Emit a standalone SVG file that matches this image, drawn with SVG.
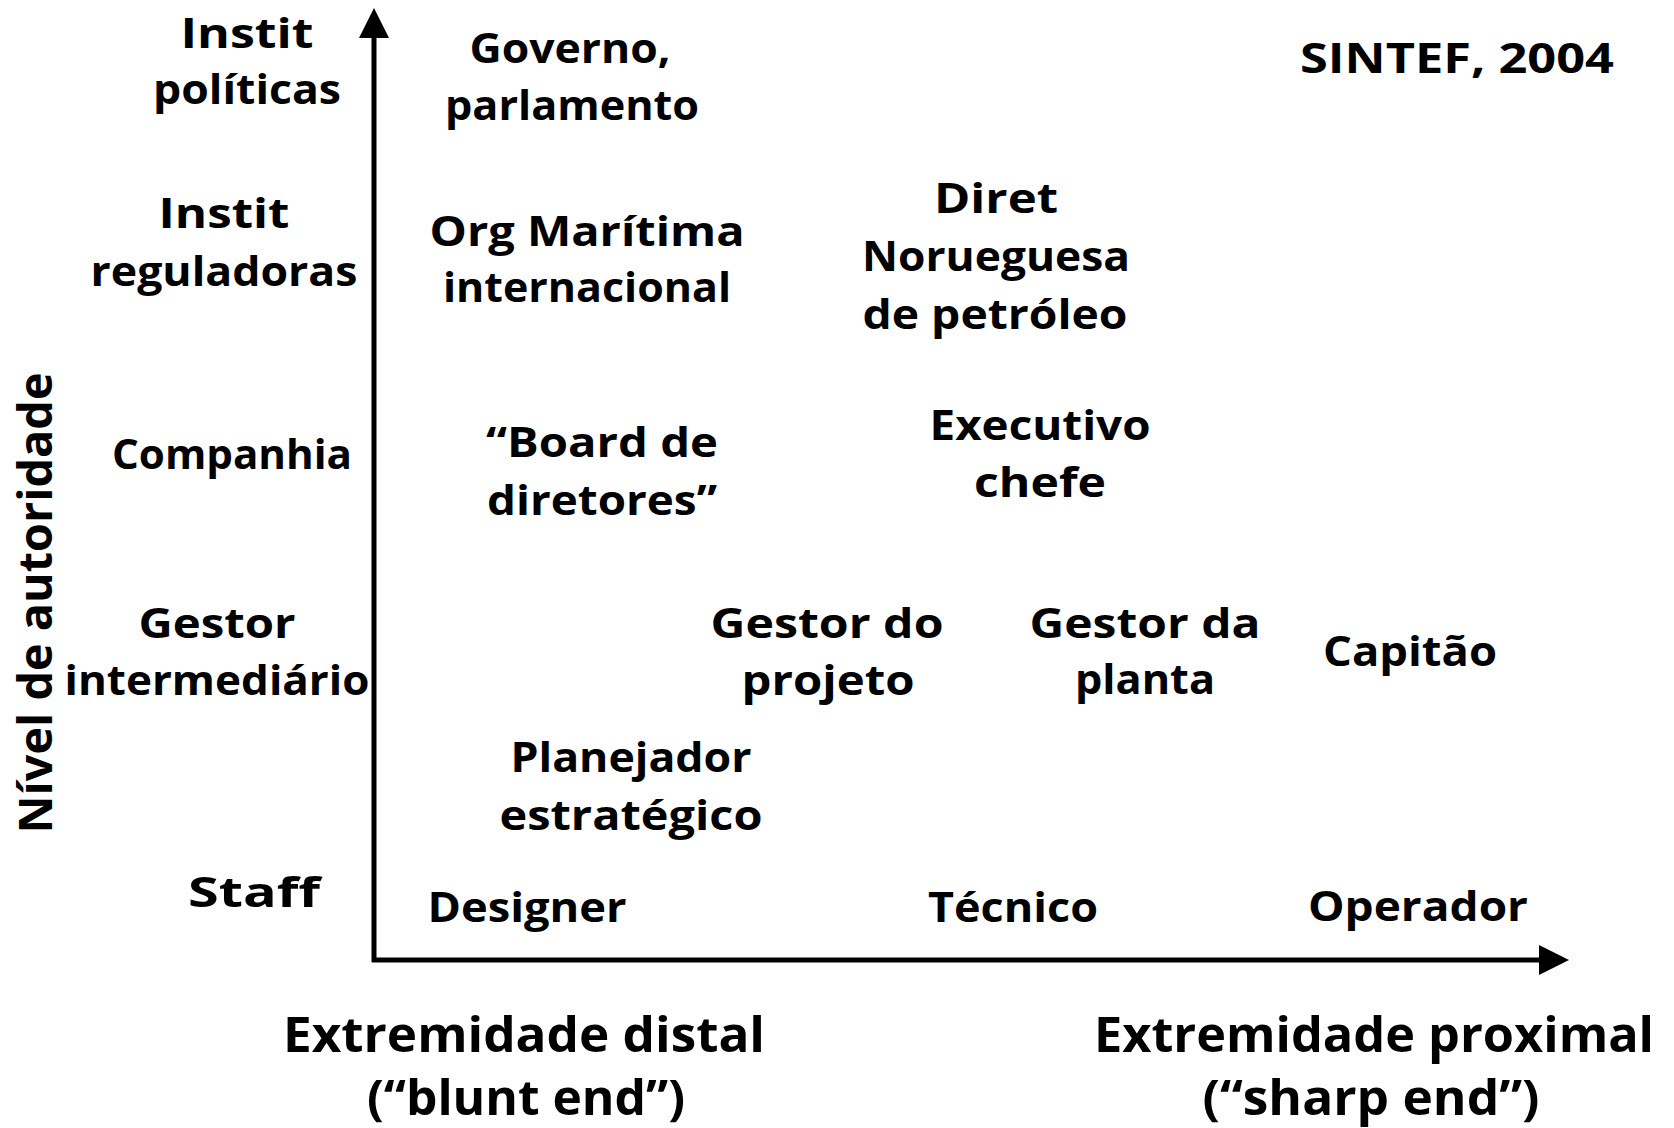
<svg xmlns="http://www.w3.org/2000/svg" width="1674" height="1128" viewBox="0 0 1674 1128">
<style>
text{font-family:"Open Sans","DejaVu Sans",sans-serif;font-weight:700;fill:#000;text-anchor:middle}
.m{font-size:42px}
.b{font-size:48px}
.v{font-size:46px}
.axis{stroke:#000;stroke-width:5;fill:none}
</style>
<defs>
<marker id="arr" viewBox="0 0 30 30" markerWidth="30" markerHeight="30" refX="0" refY="15" orient="auto" markerUnits="userSpaceOnUse">
<path d="M0,0 L30,15 L0,30 Z" fill="#000"/>
</marker>
</defs>
<rect width="1674" height="1128" fill="#fff"/>
<g id="connectors">
<line class="axis" x1="374" y1="962" x2="374" y2="38" marker-end="url(#arr)"/>
<line class="axis" x1="372" y1="960" x2="1539" y2="960" marker-end="url(#arr)"/>
</g>
<g id="y-label"><text class="v" transform="translate(52,603) rotate(-90)" textLength="461" lengthAdjust="spacingAndGlyphs">Nível de autoridade</text></g>
<g id="level-politicas"><text class="m" x="247" y="48" textLength="133" lengthAdjust="spacingAndGlyphs">Instit</text><text class="m" x="247" y="104" textLength="188" lengthAdjust="spacingAndGlyphs">políticas</text></g>
<g id="level-reguladoras"><text class="m" x="224" y="228" textLength="131" lengthAdjust="spacingAndGlyphs">Instit</text><text class="m" x="224" y="286" textLength="267" lengthAdjust="spacingAndGlyphs">reguladoras</text></g>
<g id="level-companhia"><text class="m" x="232" y="469" textLength="240" lengthAdjust="spacingAndGlyphs">Companhia</text></g>
<g id="level-gestor"><text class="m" x="217" y="638" textLength="157" lengthAdjust="spacingAndGlyphs">Gestor</text><text class="m" x="217" y="695" textLength="305" lengthAdjust="spacingAndGlyphs">intermediário</text></g>
<g id="level-staff"><text class="m" x="254" y="907" textLength="132" lengthAdjust="spacingAndGlyphs">Staff</text></g>
<g id="governo"><text class="m" x="570" y="63" textLength="201" lengthAdjust="spacingAndGlyphs">Governo,</text><text class="m" x="572" y="120" textLength="254" lengthAdjust="spacingAndGlyphs">parlamento</text></g>
<g id="sintef"><text class="m" x="1457" y="73" textLength="314" lengthAdjust="spacingAndGlyphs">SINTEF, 2004</text></g>
<g id="org-maritima"><text class="m" x="587" y="246" textLength="315" lengthAdjust="spacingAndGlyphs">Org Marítima</text><text class="m" x="587" y="302" textLength="288" lengthAdjust="spacingAndGlyphs">internacional</text></g>
<g id="diret-norueguesa"><text class="m" x="996" y="213" textLength="124" lengthAdjust="spacingAndGlyphs">Diret</text><text class="m" x="996" y="271" textLength="268" lengthAdjust="spacingAndGlyphs">Norueguesa</text><text class="m" x="995" y="329" textLength="265" lengthAdjust="spacingAndGlyphs">de petróleo</text></g>
<g id="board"><text class="m" x="602" y="457" textLength="232" lengthAdjust="spacingAndGlyphs">“Board de</text><text class="m" x="602" y="515" textLength="230" lengthAdjust="spacingAndGlyphs">diretores”</text></g>
<g id="executivo"><text class="m" x="1040" y="440" textLength="221" lengthAdjust="spacingAndGlyphs">Executivo</text><text class="m" x="1040" y="497" textLength="132" lengthAdjust="spacingAndGlyphs">chefe</text></g>
<g id="gestor-projeto"><text class="m" x="827" y="638" textLength="233" lengthAdjust="spacingAndGlyphs">Gestor do</text><text class="m" x="828" y="695" textLength="173" lengthAdjust="spacingAndGlyphs">projeto</text></g>
<g id="gestor-planta"><text class="m" x="1145" y="638" textLength="231" lengthAdjust="spacingAndGlyphs">Gestor da</text><text class="m" x="1145" y="694" textLength="140" lengthAdjust="spacingAndGlyphs">planta</text></g>
<g id="capitao"><text class="m" x="1410" y="666" textLength="174" lengthAdjust="spacingAndGlyphs">Capitão</text></g>
<g id="planejador"><text class="m" x="631" y="772" textLength="241" lengthAdjust="spacingAndGlyphs">Planejador</text><text class="m" x="631" y="830" textLength="263" lengthAdjust="spacingAndGlyphs">estratégico</text></g>
<g id="designer"><text class="m" x="527" y="922" textLength="199" lengthAdjust="spacingAndGlyphs">Designer</text></g>
<g id="tecnico"><text class="m" x="1013" y="922" textLength="170" lengthAdjust="spacingAndGlyphs">Técnico</text></g>
<g id="operador"><text class="m" x="1418" y="921" textLength="220" lengthAdjust="spacingAndGlyphs">Operador</text></g>
<g id="blunt-end"><text class="b" x="524" y="1052" textLength="482" lengthAdjust="spacingAndGlyphs">Extremidade distal</text><text class="b" x="526" y="1115" textLength="318" lengthAdjust="spacingAndGlyphs">(“blunt end”)</text></g>
<g id="sharp-end"><text class="b" x="1374" y="1052" textLength="560" lengthAdjust="spacingAndGlyphs">Extremidade proximal</text><text class="b" x="1371" y="1115" textLength="337" lengthAdjust="spacingAndGlyphs">(“sharp end”)</text></g>
</svg>
